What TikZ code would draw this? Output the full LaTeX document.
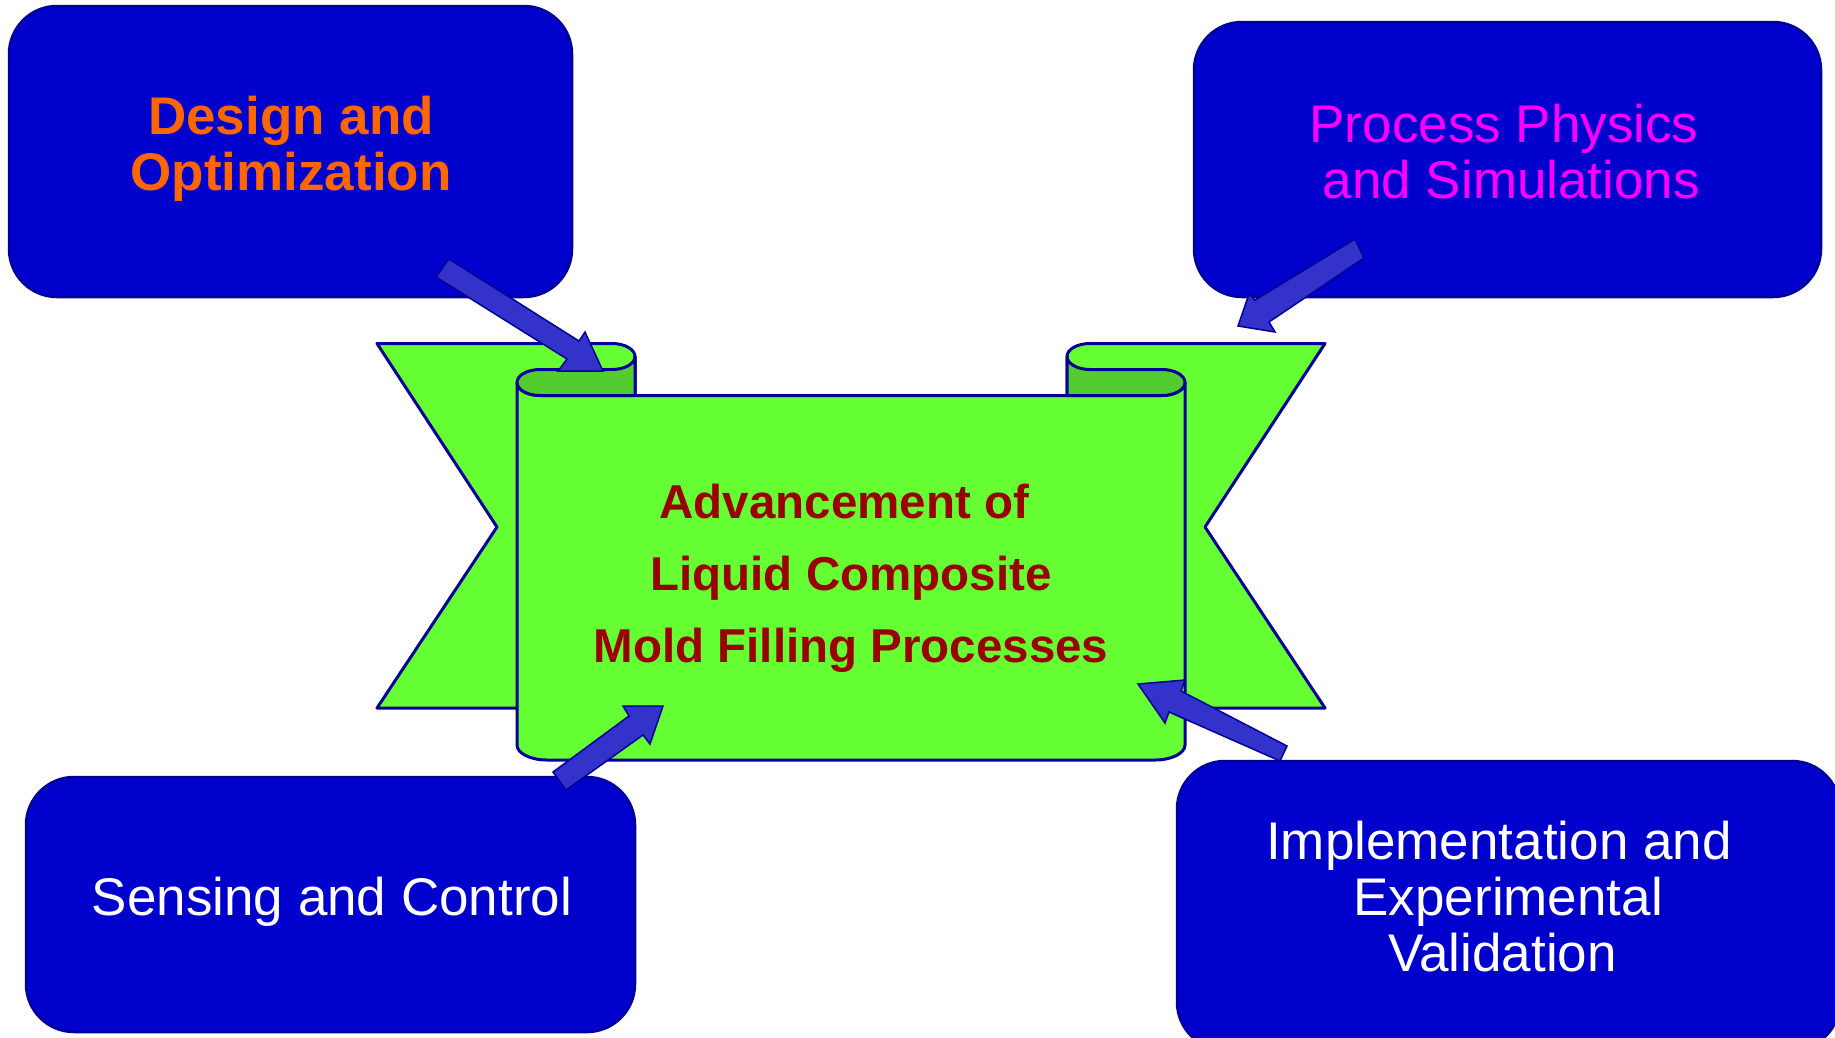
\documentclass[tikz,border=0pt]{standalone}
\usepackage{fontspec}
\setmainfont{Liberation Sans}
\definecolor{boxblue}{HTML}{0000CC}
\definecolor{navy}{HTML}{000099}
\definecolor{ltgreen}{HTML}{66FF33}
\definecolor{dkgreen}{HTML}{52CC2E}
\definecolor{arrowblue}{HTML}{3333CC}
\definecolor{orangetxt}{HTML}{FF6600}
\definecolor{magentatxt}{HTML}{FF00FF}
\definecolor{redtxt}{HTML}{990000}
\begin{document}
\begin{tikzpicture}[x=1pt,y=-1pt,
  bluebox/.style={draw=navy, fill=boxblue, line width=2.5pt, rounded corners=48pt, inner sep=0pt},
  ribbon/.style={draw=navy, fill=ltgreen, line width=3pt, line join=round},
  curl/.style={draw=navy, fill=dkgreen, line width=3pt, line join=round},
  blockarrow/.style={draw=navy, fill=arrowblue, line width=1.5pt, line join=miter},
  boldtext/.style={font=\fontsize{53}{56}\selectfont\bfseries, align=center, inner sep=0pt},
  plaintext/.style={font=\fontsize{53}{56}\selectfont, align=center, inner sep=0pt},
  bannertext/.style={font=\fontsize{47.5}{72}\selectfont\bfseries, align=center, inner sep=0pt, text=redtxt}
]
\useasboundingbox (0,0) rectangle (1835,1037);
\fill[white] (0,0) rectangle (1835,1037);

% ribbon tails (behind)
\draw[ribbon] (377,343.5) -- (612,343.5) arc[start angle=-90,end angle=0,x radius=23,y radius=13]
  -- (635,708) -- (377,708) -- (497,527) -- cycle;
\draw[ribbon] (1325,343.5) -- (1090,343.5) arc[start angle=-90,end angle=-180,x radius=23,y radius=13]
  -- (1067,708) -- (1325,708) -- (1205,527) -- cycle;

% main panel
\draw[ribbon] (540,395.5) arc[start angle=90,end angle=180,x radius=23,y radius=13]
  -- (517,745) arc[start angle=180,end angle=90,x radius=30,y radius=15]
  -- (1155,760) arc[start angle=90,end angle=0,x radius=30,y radius=15]
  -- (1185,382.5) arc[start angle=0,end angle=90,x radius=23,y radius=13]
  -- cycle;

% curls
\draw[curl] (635,395.5) -- (635,356.5) arc[start angle=0,end angle=90,x radius=23,y radius=13]
  -- (540,369.5) arc[start angle=-90,end angle=-270,x radius=23,y radius=13] -- cycle;
\draw[curl] (1067,395.5) -- (1067,356.5) arc[start angle=180,end angle=90,x radius=23,y radius=13]
  -- (1162,369.5) arc[start angle=-90,end angle=90,x radius=23,y radius=13] -- cycle;

% boxes
\node[bluebox, minimum width=563pt, minimum height=291pt] (design) at (290.5,151.5) {};
\node[bluebox, minimum width=627pt, minimum height=275pt] (physics) at (1507.5,159.5) {};
\node[bluebox, minimum width=609pt, minimum height=255pt] (sensing) at (330.5,904.5) {};
\node[bluebox, minimum width=663pt, minimum height=289pt] (impl) at (1508.5,905.5) {};

% block arrows
\draw[blockarrow] (449,259) -- (579,341) -- (585,332) -- (603,371) -- (558,371) -- (567,359) -- (436,277) -- cycle;
\draw[blockarrow] (1355,239) -- (1255,300) -- (1249,294) -- (1238,326) -- (1275,332) -- (1269,322) -- (1364,258) -- cycle;
\draw[blockarrow] (553,772) -- (629,716) -- (623,706) -- (663,706) -- (650,744) -- (643,735) -- (566,790) -- cycle;
\draw[blockarrow] (1138,684) -- (1185,680) -- (1181,691) -- (1287,746) -- (1280,761) -- (1169,712) -- (1165,723) -- cycle;

% texts
\node[boldtext, text=orangetxt] (designtxt) at (291,148.5) {Design and\\Optimization};
\node[plaintext, text=magentatxt] (physicstxt) at (1504,152) {Process Physics\\\hspace*{0.28em}and Simulations};
\node[plaintext, text=white] (sensingtxt) at (332,902) {Sensing and Control};
\node[plaintext, text=white] (impltxt) at (1499,897) {Implementation and\\\hspace*{0.35em}Experimental\\\hspace*{0.13em}Validation};
\node[bannertext] (maintxt) at (851,578) {Advancement of\hspace*{0.278em}\\Liquid Composite\\Mold Filling Processes};
\end{tikzpicture}
\end{document}
